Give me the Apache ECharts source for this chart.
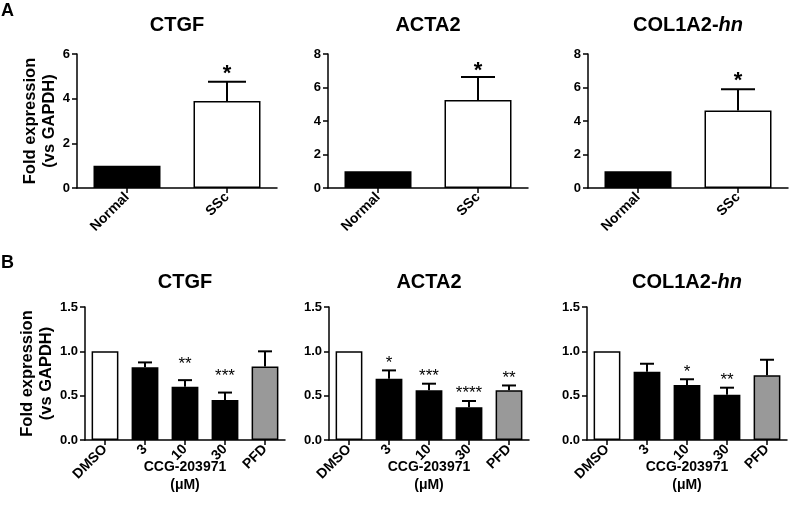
<!DOCTYPE html>
<html>
<head>
<meta charset="utf-8">
<script src="https://cdn.jsdelivr.net/npm/echarts@6/dist/echarts.min.js"></script>
<style>html,body{margin:0;padding:0;background:#fff}#c{width:790px;height:510px}</style>
</head>
<body>
<div id="c"></div>
<script>
// ---------- data ----------
const topCategories = ['Normal', 'SSc'];
const topColors = ['#000000', '#ffffff'];
const ctgfA = [1.0, 3.90];
const ctgfAErr = [0, 0.86];
const acta2A = [1.0, 5.25];
const acta2AErr = [0, 1.38];
const col1a2A = [1.0, 4.62];
const col1a2AErr = [0, 1.27];
const starsA = ['', '*'];
const topMaxCTGF = 6;
const topMaxOther = 8;
const topInterval = 2;

const bottomCategories = ['DMSO', '3', '10', '30', 'PFD'];
const bottomColors = ['#ffffff', '#000000', '#000000', '#000000', '#999999'];
const ctgfB = [1.0, 0.82, 0.60, 0.45, 0.83];
const ctgfBErr = [0, 0.055, 0.075, 0.085, 0.17];
const starsB1 = ['', '', '**', '***', ''];
const acta2B = [1.0, 0.69, 0.56, 0.37, 0.56];
const acta2BErr = [0, 0.095, 0.075, 0.07, 0.055];
const starsB2 = ['', '*', '***', '****', '**'];
const col1a2B = [1.0, 0.77, 0.62, 0.51, 0.73];
const col1a2BErr = [0, 0.09, 0.065, 0.08, 0.175];
const starsB3 = ['', '', '*', '**', ''];
const bottomMax = 1.5;
const bottomInterval = 0.5;

// ---------- chart ----------
const FONT = 'Liberation Sans, Arial, Helvetica, sans-serif';
const chart = echarts.init(document.getElementById('c'), null, {renderer: 'canvas'});

const panels = [
  {name: 'CTGF', cats: topCategories, colors: topColors, vals: ctgfA, err: ctgfAErr, stars: starsA, max: topMaxCTGF, interval: topInterval,
   grid: {left: 77, top: 54, width: 200, height: 134}, yname: true, cap: 38, starFs: 22, starBold: 'bold', starGap: 13, fmt: v => String(v)},
  {name: 'ACTA2', cats: topCategories, colors: topColors, vals: acta2A, err: acta2AErr, stars: starsA, max: topMaxOther, interval: topInterval,
   grid: {left: 328, top: 54, width: 200, height: 134}, yname: false, cap: 34, starFs: 22, starBold: 'bold', starGap: 11, fmt: v => String(v)},
  {name: 'COL1A2', cats: topCategories, colors: topColors, vals: col1a2A, err: col1a2AErr, stars: starsA, max: topMaxOther, interval: topInterval,
   grid: {left: 588, top: 54, width: 200, height: 134}, yname: false, cap: 34, starFs: 22, starBold: 'bold', starGap: 13, fmt: v => String(v)},
  {name: 'CTGF', cats: bottomCategories, colors: bottomColors, vals: ctgfB, err: ctgfBErr, stars: starsB1, max: bottomMax, interval: bottomInterval,
   grid: {left: 85, top: 307, width: 200, height: 133}, yname: true, cap: 14, starFs: 17, starBold: 'normal', starGap: 20, fmt: v => v.toFixed(1)},
  {name: 'ACTA2', cats: bottomCategories, colors: bottomColors, vals: acta2B, err: acta2BErr, stars: starsB2, max: bottomMax, interval: bottomInterval,
   grid: {left: 329, top: 307, width: 200, height: 133}, yname: false, cap: 14, starFs: 17, starBold: 'normal', starGap: 11, fmt: v => v.toFixed(1)},
  {name: 'COL1A2', cats: bottomCategories, colors: bottomColors, vals: col1a2B, err: col1a2BErr, stars: starsB3, max: bottomMax, interval: bottomInterval,
   grid: {left: 587, top: 307, width: 200, height: 133}, yname: false, cap: 14, starFs: 17, starBold: 'normal', starGap: 11, fmt: v => v.toFixed(1)}
];

const titles = [], grids = [], xAxes = [], yAxes = [], series = [];
const axisLine = {show: true, lineStyle: {color: '#000', width: 1.5}};

panels.forEach((p, k) => {
  grids.push(Object.assign({containLabel: false}, p.grid));
  const isCOL = p.name === 'COL1A2';
  titles.push({
    text: isCOL ? '{n|COL1A2-}{i|hn}' : p.name,
    left: p.grid.left + p.grid.width / 2,
    top: p.grid.top < 100 ? 15 : 272,
    textAlign: 'center',
    padding: 0,
    textStyle: {
      fontFamily: FONT, fontSize: 20, fontWeight: 'bold', color: '#000',
      rich: {
        n: {fontFamily: FONT, fontSize: 20, fontWeight: 'bold', color: '#000'},
        i: {fontFamily: FONT, fontSize: 20, fontWeight: 'bold', fontStyle: 'italic', color: '#000'}
      }
    }
  });
  xAxes.push({
    type: 'category', gridIndex: k, data: p.cats,
    axisLine: axisLine,
    axisTick: {show: true, alignWithLabel: true, length: 5, lineStyle: {color: '#000', width: 1.5}},
    axisLabel: {interval: 0, rotate: 45, margin: 7, fontFamily: FONT, fontSize: 14, fontWeight: 'bold', color: '#000'},
    splitLine: {show: false}
  });
  yAxes.push({
    type: 'value', gridIndex: k, min: 0, max: p.max, interval: p.interval,
    axisLine: axisLine,
    axisTick: {show: true, length: 5, lineStyle: {color: '#000', width: 1.5}},
    axisLabel: {margin: 7, fontFamily: FONT, fontSize: 13, fontWeight: 'bold', color: '#000', formatter: p.fmt},
    splitLine: {show: false},
    name: p.yname ? 'Fold expression\n(vs GAPDH)' : '',
    nameLocation: 'middle', nameRotate: 90, nameGap: 18,
    nameTextStyle: {fontFamily: FONT, fontSize: 16.5, fontWeight: 'bold', color: '#000', lineHeight: 19}
  });
  series.push({
    type: 'bar', xAxisIndex: k, yAxisIndex: k, barWidth: '67%', silent: true,
    data: p.vals.map((v, i) => ({value: v, itemStyle: {color: p.colors[i], borderColor: '#000', borderWidth: 1.5}})),
    z: 2
  });
  const stars = p.stars;
  series.push({
    type: 'custom', xAxisIndex: k, yAxisIndex: k, silent: true, z: 3,
    data: p.vals.map((v, i) => [i, v, p.err[i]]),
    renderItem: function (params, api) {
      const i = api.value(0), mean = api.value(1), sem = api.value(2);
      const base = api.coord([i, mean]);
      const top = api.coord([i, mean + sem]);
      const children = [];
      if (sem > 0) {
        children.push({type: 'line', shape: {x1: top[0], y1: base[1], x2: top[0], y2: top[1]}, style: {stroke: '#000', lineWidth: 2}});
        children.push({type: 'line', shape: {x1: top[0] - p.cap / 2, y1: top[1], x2: top[0] + p.cap / 2, y2: top[1]}, style: {stroke: '#000', lineWidth: 2}});
      }
      const s = stars[params.dataIndex];
      if (s) {
        children.push({type: 'text', style: {
          text: s, x: top[0], y: top[1] - p.starGap + 0.22 * p.starFs,
          textAlign: 'center', textVerticalAlign: 'middle',
          font: p.starBold + ' ' + p.starFs + 'px ' + FONT, fill: '#000'
        }});
      }
      return {type: 'group', children: children};
    }
  });
});

const graphics = [
  {type: 'text', left: 1, top: 2, style: {text: 'A', font: 'bold 18px ' + FONT, fill: '#000'}},
  {type: 'text', left: 1, top: 254, style: {text: 'B', font: 'bold 18px ' + FONT, fill: '#000'}}
];
[185, 429, 687].forEach(cx => {
  graphics.push({type: 'text', x: cx, y: 467, style: {text: 'CCG-203971', font: 'bold 14px ' + FONT, fill: '#000', textAlign: 'center', textVerticalAlign: 'middle'}});
  graphics.push({type: 'text', x: cx, y: 485, style: {text: '(\u03bcM)', font: 'bold 14px ' + FONT, fill: '#000', textAlign: 'center', textVerticalAlign: 'middle'}});
});

chart.setOption({
  animation: false,
  backgroundColor: '#ffffff',
  title: titles,
  grid: grids,
  xAxis: xAxes,
  yAxis: yAxes,
  series: series,
  graphic: graphics
});
</script>
</body>
</html>
